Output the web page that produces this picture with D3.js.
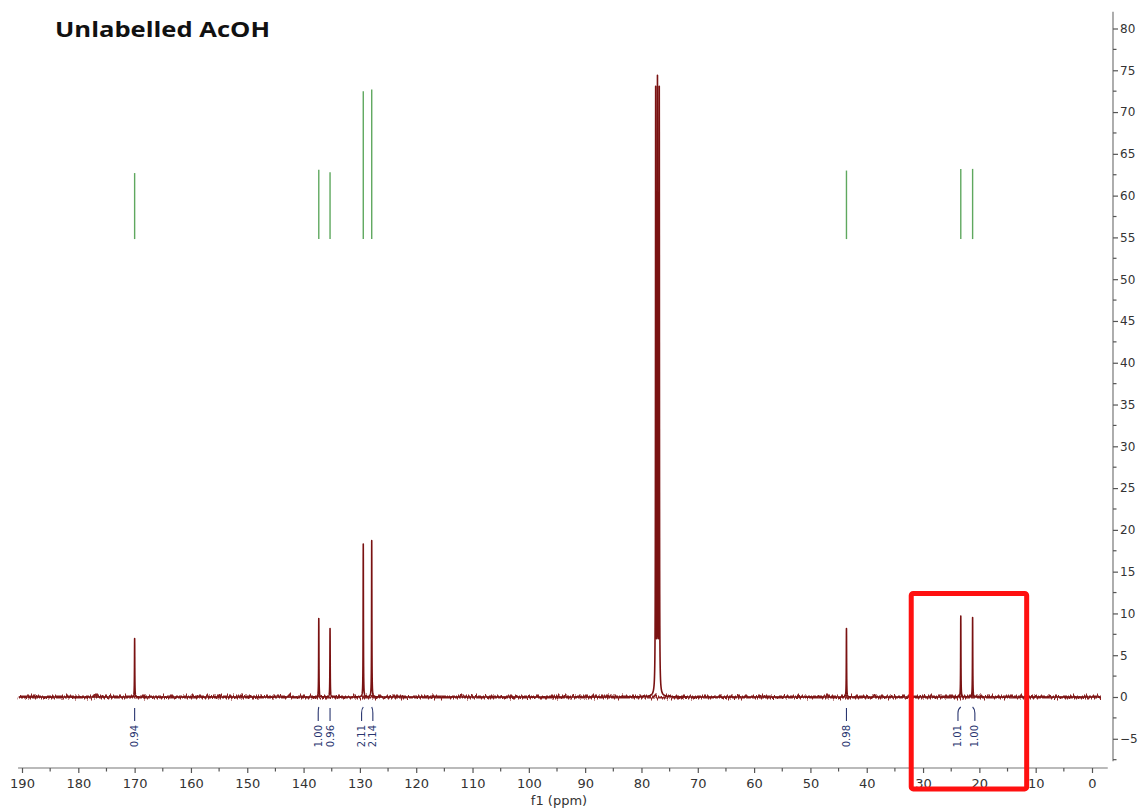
<!DOCTYPE html>
<html>
<head>
<meta charset="utf-8">
<script src="https://cdn.jsdelivr.net/npm/d3@7"></script>
<style>
  html, body { margin: 0; padding: 0; background: #fff; }
  svg { display: block; }
</style>
</head>
<body>
<svg id="chart" width="1138" height="808"></svg>
<script>
// 13C NMR spectrum, CDCl3 — peak list (ppm), intensities and half-widths
const peakShifts  = [170.0, 137.3, 135.3, 129.4, 127.9, 77.48, 77.16, 76.84, 43.6, 23.3, 21.2];
const peakHeights = [7.0,   9.4,   8.2,   18.3,  18.7,  72.0,  72.7,  72.0,  8.2,  9.7,  9.5];
const peakHalfWidths = [0.03, 0.03, 0.03, 0.03, 0.03, 0.035, 0.035, 0.035, 0.03, 0.03, 0.03];

// green peak-pick markers: shift, lower and upper level
const markerShifts = [170.0, 137.3, 135.3, 129.4, 127.9, 43.6, 23.3, 21.2];
const markerTops   = [62.7,  63.1,  62.8,  72.5,  72.7,  63.0, 63.2, 63.2];
const markerBase   = 54.8;

// integrals printed below the baseline (integrated peak, label position)
const integralShifts = [170.0, 137.3, 135.3, 129.4, 127.9, 43.6, 23.3, 21.2];
const integralLabelAt = [170.0, 137.4, 135.3, 129.7, 127.7, 43.6, 23.8, 20.8];
const integralValues = ["0.94", "1.00", "0.96", "2.11", "2.14", "0.98", "1.01", "1.00"];

// axes
const xTicks = d3.range(190, -1, -10);
const xMinorTicks = d3.range(185, 0, -10);
const yTicks = d3.range(-5, 81, 5);
const yMinorTicks = d3.range(-7.5, 81, 5);

// highlighted region (ppm range, intensity range)
const highlightPpm = [32.1, 11.6];
const highlightInt = [12.4, -11.0];

const title = "Unlabelled AcOH";

const svg = d3.select("#chart");
const x = d3.scaleLinear().domain([190, 0]).range([22, 1092]);
const y = d3.scaleLinear().domain([0, 80]).range([697, 28.5]);

// baseline jitter filter
const defs = svg.append("defs");
const f = defs.append("filter").attr("id", "jitter")
  .attr("filterUnits", "userSpaceOnUse")
  .attr("x", 0).attr("y", 675).attr("width", 1138).attr("height", 45);
f.append("feTurbulence").attr("type", "fractalNoise")
  .attr("baseFrequency", "0.7 0.08").attr("numOctaves", 2).attr("seed", 11).attr("result", "n");
f.append("feDisplacementMap").attr("in", "SourceGraphic").attr("in2", "n")
  .attr("scale", 7).attr("xChannelSelector", "R").attr("yChannelSelector", "G");

// title
svg.append("text")
  .attr("x", 55).attr("y", 37)
  .attr("font-family", "'Open Sans', Lato, sans-serif")
  .attr("font-weight", 700).attr("font-size", 22)
  .attr("textLength", 215).attr("lengthAdjust", "spacingAndGlyphs")
  .attr("fill", "#111")
  .text(title);

// green markers
svg.append("g").selectAll("line")
  .data(markerShifts)
  .join("line")
  .attr("x1", d => x(d)).attr("x2", d => x(d))
  .attr("y1", y(markerBase))
  .attr("y2", (d, i) => y(markerTops[i]))
  .attr("stroke", "#5fa85f").attr("stroke-width", 1.4);

// spectrum: sum of Lorentzian lines
const samples = d3.range(190.6, -1.6, -0.01).concat(peakShifts).sort((a, b) => b - a);
const spectrum = samples.map(s => {
  let v = 0;
  peakShifts.forEach((p, i) => {
    const g = peakHalfWidths[i];
    v += peakHeights[i] * g * g / (g * g + (s - p) * (s - p));
  });
  return [s, v];
});

svg.append("path")
  .attr("d", `M${x(190.6)},${y(0)}H${x(-1.6)}`)
  .attr("stroke", "#8a2020").attr("stroke-width", 2.8)
  .attr("fill", "none").attr("filter", "url(#jitter)");

svg.append("path")
  .datum(spectrum)
  .attr("d", d3.line().x(d => x(d[0])).y(d => y(d[1])))
  .attr("fill", "none")
  .attr("stroke", "#7a1212").attr("stroke-width", 1.6)
  .attr("stroke-linejoin", "round");

// integral labels with connector from the peak to its label
const ig = svg.append("g");
integralShifts.forEach((s, i) => {
  const px = x(s);
  const lx = x(integralLabelAt[i]);
  const p = Math.abs(px - lx) < 0.5
    ? `M${lx},708V721`
    : `M${lx},721V713Q${lx},709 ${px},707`;
  ig.append("path").attr("d", p).attr("fill", "none")
    .attr("stroke", "#2a3670").attr("stroke-width", 1.1);
  ig.append("text")
    .attr("transform", `translate(${lx + 3.5},${725}) rotate(-90)`)
    .attr("text-anchor", "end")
    .attr("font-family", "'DejaVu Sans', sans-serif")
    .attr("font-size", 10).attr("fill", "#2a3670")
    .text(integralValues[i]);
});

// x axis
const gx = svg.append("g").attr("transform", "translate(0,768)");
gx.append("line")
  .attr("x1", x(190.7)).attr("x2", x(-2.8))
  .attr("stroke", "#777").attr("stroke-width", 1.2);
gx.selectAll(".minor").data(xMinorTicks).join("line")
  .attr("x1", d => x(d)).attr("x2", d => x(d))
  .attr("y1", 0).attr("y2", 3.5)
  .attr("stroke", "#555").attr("stroke-width", 1.2);
gx.call(d3.axisBottom(x).tickValues(xTicks).tickSize(5).tickPadding(6).tickFormat(d3.format("d")))
  .call(g => g.select(".domain").remove())
  .call(g => g.selectAll(".tick line").attr("stroke", "#555").attr("stroke-width", 1.2))
  .call(g => g.selectAll(".tick text")
    .attr("font-family", "'DejaVu Sans', sans-serif")
    .attr("font-size", 13).attr("fill", "#333"));

svg.append("text")
  .attr("x", 559).attr("y", 805)
  .attr("text-anchor", "middle")
  .attr("font-family", "'DejaVu Sans', sans-serif")
  .attr("font-size", 13).attr("fill", "#333")
  .text("f1 (ppm)");

// y axis (right)
const gy = svg.append("g").attr("transform", "translate(1113,0)");
gy.append("line")
  .attr("y1", y(82)).attr("y2", y(-7.7))
  .attr("stroke", "#777").attr("stroke-width", 1.2);
gy.selectAll(".minor").data(yMinorTicks).join("line")
  .attr("y1", d => y(d)).attr("y2", d => y(d))
  .attr("x1", 0).attr("x2", 3.5)
  .attr("stroke", "#555").attr("stroke-width", 1.2);
gy.call(d3.axisRight(y).tickValues(yTicks).tickSize(5).tickPadding(2).tickFormat(d3.format("d")))
  .call(g => g.select(".domain").remove())
  .call(g => g.selectAll(".tick line").attr("stroke", "#555").attr("stroke-width", 1.2))
  .call(g => g.selectAll(".tick text")
    .attr("font-family", "'DejaVu Sans', sans-serif")
    .attr("font-size", 12).attr("fill", "#333"));

// highlight box
svg.append("rect")
  .attr("x", x(highlightPpm[0])).attr("y", y(highlightInt[0]))
  .attr("width", x(highlightPpm[1]) - x(highlightPpm[0]))
  .attr("height", y(highlightInt[1]) - y(highlightInt[0]))
  .attr("rx", 2)
  .attr("fill", "none").attr("stroke", "#ff1010").attr("stroke-width", 5);
</script>
</body>
</html>
